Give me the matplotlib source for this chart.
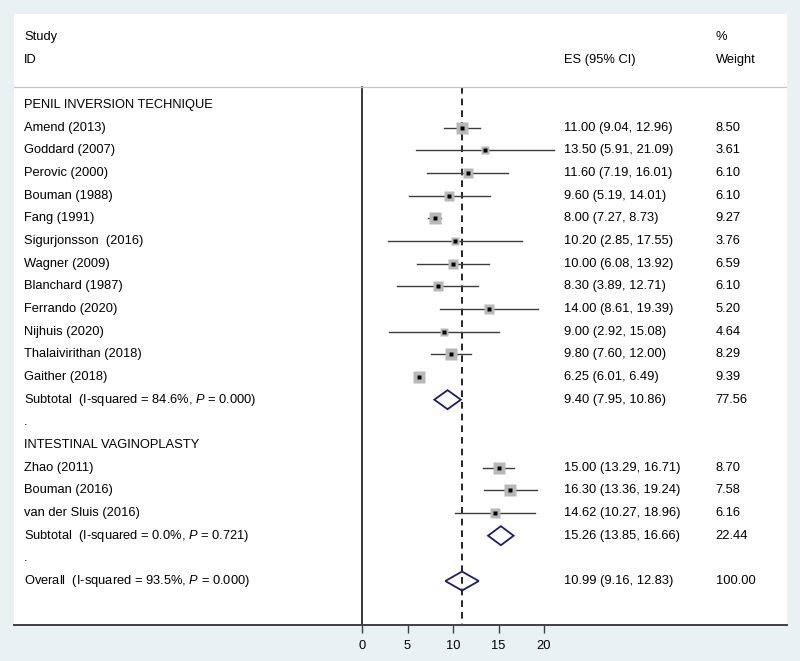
import matplotlib
matplotlib.use('Agg')
import matplotlib.pyplot as plt
from matplotlib.patches import Polygon

plt.rcParams['font.family'] = 'Liberation Sans'
plt.rcParams['mathtext.fontset'] = 'custom'
plt.rcParams['mathtext.rm'] = 'Liberation Sans'
plt.rcParams['mathtext.it'] = 'Liberation Sans:italic'

# group 1
pit_names = ['Amend (2013)', 'Goddard (2007)', 'Perovic (2000)', 'Bouman (1988)',
             'Fang (1991)', 'Sigurjonsson  (2016)', 'Wagner (2009)', 'Blanchard (1987)',
             'Ferrando (2020)', 'Nijhuis (2020)', 'Thalaivirithan (2018)', 'Gaither (2018)']
pit_es = [11.00, 13.50, 11.60, 9.60, 8.00, 10.20, 10.00, 8.30, 14.00, 9.00, 9.80, 6.25]
pit_lo = [9.04, 5.91, 7.19, 5.19, 7.27, 2.85, 6.08, 3.89, 8.61, 2.92, 7.60, 6.01]
pit_hi = [12.96, 21.09, 16.01, 14.01, 8.73, 17.55, 13.92, 12.71, 19.39, 15.08, 12.00, 6.49]
pit_w = [8.50, 3.61, 6.10, 6.10, 9.27, 3.76, 6.59, 6.10, 5.20, 4.64, 8.29, 9.39]

# group 2
iv_names = ['Zhao (2011)', 'Bouman (2016)', 'van der Sluis (2016)']
iv_es = [15.00, 16.30, 14.62]
iv_lo = [13.29, 13.36, 10.27]
iv_hi = [16.71, 19.24, 18.96]
iv_w = [8.70, 7.58, 6.16]

# pooled
sub_labels = ['Subtotal  (I-squared = 84.6%, $\\mathit{P}$ = 0.000)',
              'Subtotal  (I-squared = 0.0%, $\\mathit{P}$ = 0.721)']
sub_es = [9.40, 15.26]
sub_lo = [7.95, 13.85]
sub_hi = [10.86, 16.66]
sub_w = [77.56, 22.44]
overall_label = 'Overall  (I-squared = 93.5%, $\\mathit{P}$ = 0.000)'
overall_es, overall_lo, overall_hi, overall_w = 10.99, 9.16, 12.83, 100.00

xticks = [0, 5, 10, 15, 20]

bg = '#e9f1f3'
navy = '#1c1c6b'
fs = 9.3

fig = plt.figure(figsize=(8, 6.61), dpi=100, facecolor=bg)
ax = fig.add_axes([14/800, 36/661, 773/800, 611/661])
ax.set_facecolor('white')
ax.set_xlim(-38.24, 46.70)
ax.set_ylim(22.94, -4.014)

x_lab, x_es, x_w = -37.14, 22.25, 38.85

def txt(x, y, s):
    ax.text(x, y, s, fontsize=fs, va='center', ha='left', color='black')

def study(y, name, es, lo, hi, w):
    txt(x_lab, y, name)
    ax.plot([lo, hi], [y, y], color='#3c3c3c', lw=1.0, zorder=2)
    ax.plot(es, y, marker='s', color='#b8b8b8', ms=4 * w ** 0.5 * 0.72, mec='none', zorder=3)
    ax.plot(es, y, marker='s', color='black', ms=2.8, mec='none', zorder=4)
    txt(x_es, y, f'{es:.2f} ({lo:.2f}, {hi:.2f})')
    txt(x_w, y, f'{w:.2f}')

def diamond(y, name, es, lo, hi, w):
    txt(x_lab, y, name)
    h = 0.42
    ax.add_patch(Polygon([(lo, y), (es, y - h), (hi, y), (es, y + h)], closed=True,
                         fill=False, ec=navy, lw=1.3, zorder=3))
    txt(x_es, y, f'{es:.2f} ({lo:.2f}, {hi:.2f})')
    txt(x_w, y, f'{w:.2f}')

# header
txt(x_lab, -3, 'Study')
txt(x_lab, -2, 'ID')
txt(x_es, -2, 'ES (95% CI)')
txt(x_w, -3, '%')
txt(x_w, -2, 'Weight')
ax.axhline(-0.794, color='#c4c4c4', lw=0.9)

row = 0
txt(x_lab, row, 'PENIL INVERSION TECHNIQUE')
for i in range(len(pit_names)):
    row += 1
    study(row, pit_names[i], pit_es[i], pit_lo[i], pit_hi[i], pit_w[i])
row += 1
diamond(row, sub_labels[0], sub_es[0], sub_lo[0], sub_hi[0], sub_w[0])
row += 1
txt(x_lab, row, '.')
row += 1
txt(x_lab, row, 'INTESTINAL VAGINOPLASTY')
for i in range(len(iv_names)):
    row += 1
    study(row, iv_names[i], iv_es[i], iv_lo[i], iv_hi[i], iv_w[i])
row += 1
diamond(row, sub_labels[1], sub_es[1], sub_lo[1], sub_hi[1], sub_w[1])
row += 1
txt(x_lab, row, '.')
row += 1
diamond(row, overall_label, overall_es, overall_lo, overall_hi, overall_w)

# reference lines
ax.plot([0, 0], [-0.794, 22.94], color='black', lw=1.1, zorder=1)
ax.plot([overall_es, overall_es], [-0.794, 22.94], color='black', lw=1.2,
        linestyle=(0, (4, 3)), zorder=1)

for s in ['top', 'left', 'right']:
    ax.spines[s].set_visible(False)
ax.spines['bottom'].set_color('#404040')
ax.spines['bottom'].set_linewidth(1.4)
ax.set_yticks([])
ax.set_xticks(xticks)
ax.tick_params(axis='x', direction='out', length=6, width=1, color='#404040',
               labelsize=fs, pad=5, labelcolor='black')

fig.savefig('out.png', dpi=100, facecolor=bg)
